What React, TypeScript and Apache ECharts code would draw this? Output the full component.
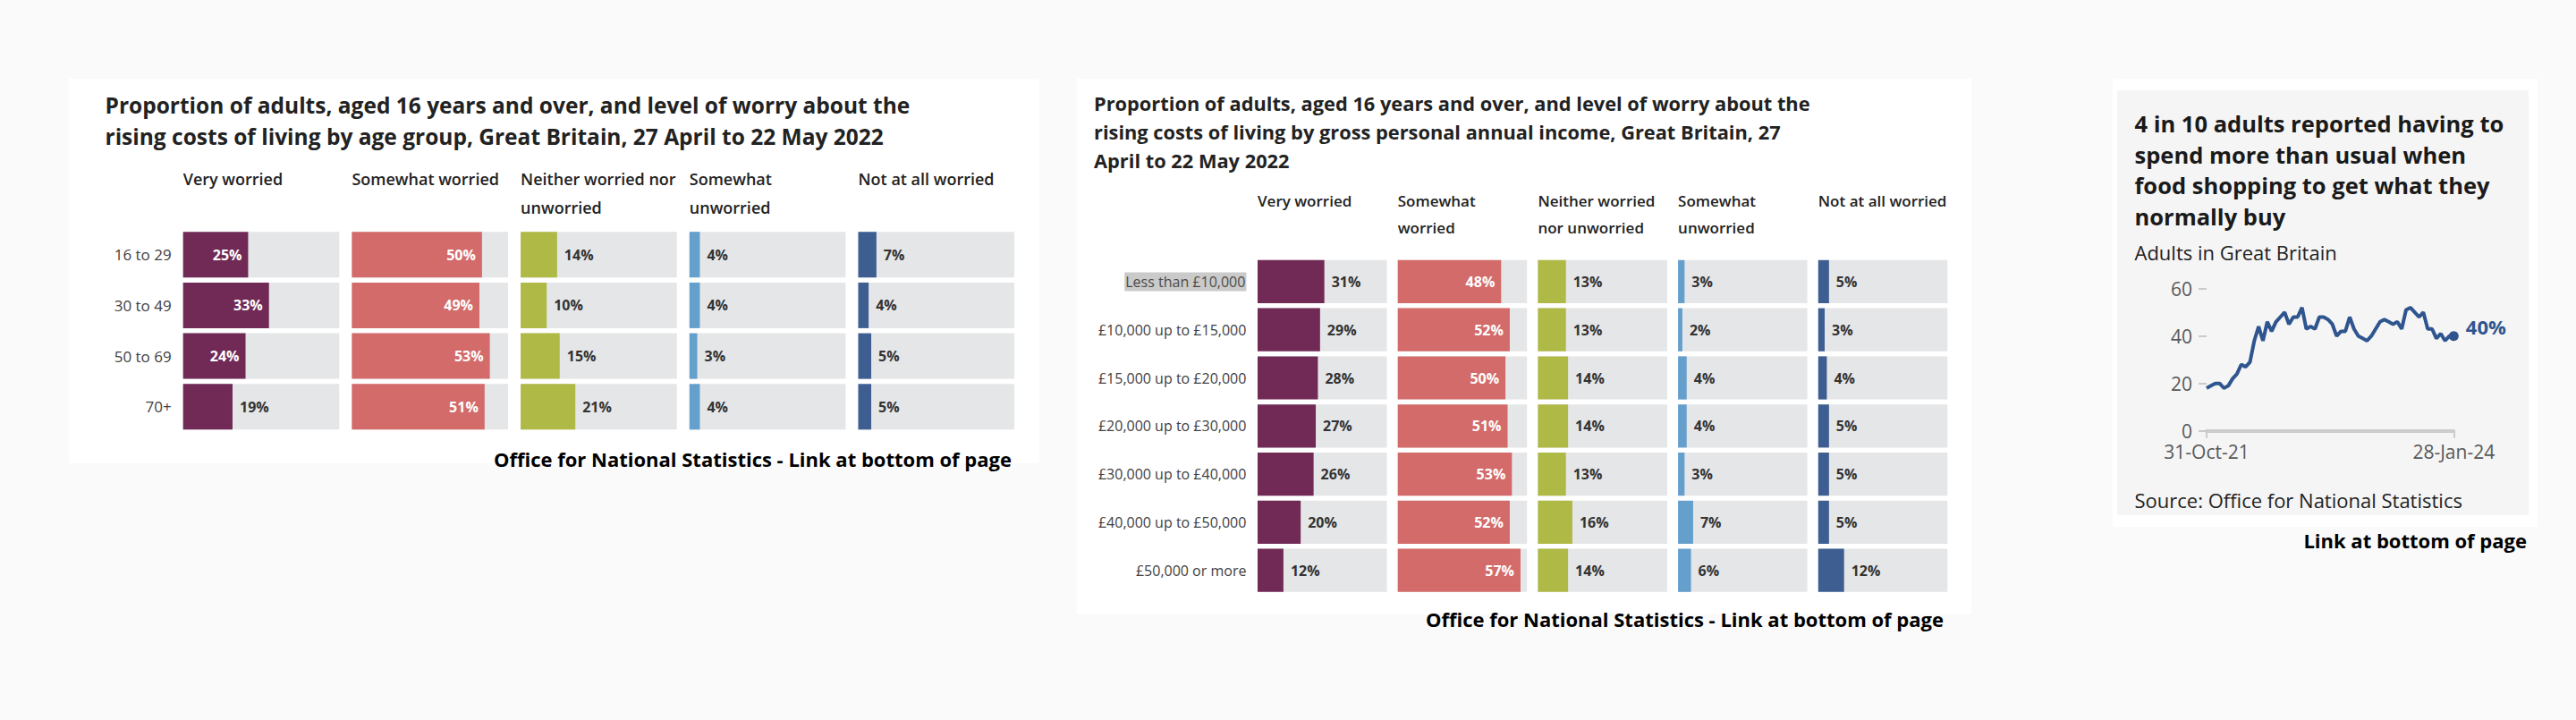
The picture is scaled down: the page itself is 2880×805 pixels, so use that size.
import React, { useEffect, useRef } from "react";
import * as echarts from "echarts";

const FONT = '"Open Sans", "Noto Sans", sans-serif';

// ---------- data ----------
const headersByAge = [
  "Very worried",
  "Somewhat worried",
  "Neither worried nor\nunworried",
  "Somewhat\nunworried",
  "Not at all worried",
];
const headersByIncome = [
  "Very worried",
  "Somewhat\nworried",
  "Neither worried\nnor unworried",
  "Somewhat\nunworried",
  "Not at all worried",
];

const ageGroups = ["16 to 29", "30 to 49", "50 to 69", "70+"];
const ageVeryWorried = [25, 33, 24, 19];
const ageSomewhatWorried = [50, 49, 53, 51];
const ageNeither = [14, 10, 15, 21];
const ageSomewhatUnworried = [4, 4, 3, 4];
const ageNotAtAll = [7, 4, 5, 5];

const incomeBands = [
  "Less than £10,000",
  "£10,000 up to £15,000",
  "£15,000 up to £20,000",
  "£20,000 up to £30,000",
  "£30,000 up to £40,000",
  "£40,000 up to £50,000",
  "£50,000 or more",
];
const highlightedBand = "Less than £10,000";
const incomeVeryWorried = [31, 29, 28, 27, 26, 20, 12];
const incomeSomewhatWorried = [48, 52, 50, 51, 53, 52, 57];
const incomeNeither = [13, 13, 14, 14, 13, 16, 14];
const incomeSomewhatUnworried = [3, 2, 4, 4, 3, 7, 6];
const incomeNotAtAll = [5, 3, 4, 5, 5, 5, 12];

const foodShoppingShare = [
  18, 19, 20, 20, 18, 19, 22, 24, 28, 27,
  29, 38, 44, 38, 46, 42, 46, 48, 50, 45,
  48, 48, 52, 43, 44, 43, 48, 48, 47, 45,
  40, 42, 42, 48, 43, 40, 39, 38, 40, 43,
  46, 47, 46, 45, 46, 43, 51, 52, 50, 48,
  50, 43, 43, 39, 41, 38, 40, 40,
];
const foodXTickLabels = ["31-Oct-21", "28-Jan-24"];
const foodYTicks = { min: 0, max: 60, interval: 20 };
const barScaleMax = 60;

// ---------- styles ----------
const worryColors = ["#712A56", "#D36B6A", "#AFB945", "#659FCC", "#3E5E92"];
const trackColor = "#E5E6E8";
const lineColor = "#2F558F";

type PanelCfg = {
  rows: string[];
  values: number[][];
  x0: number;
  pitchX: number;
  colW: number;
  top: number;
  rowPitch: number;
  barW: number;
  insideMin: number;
  rowFont: number;
  labelMargin: number;
};

function addBarPanel(opt: any, cfg: PanelCfg) {
  cfg.values.forEach((vals, k) => {
    const gi = opt.grid.length;
    opt.grid.push({
      left: cfg.x0 + k * cfg.pitchX,
      top: cfg.top,
      width: cfg.colW,
      height: cfg.rowPitch * cfg.rows.length,
    });
    opt.xAxis.push({ type: "value", gridIndex: gi, min: 0, max: barScaleMax, show: false });
    opt.yAxis.push({
      type: "category",
      gridIndex: gi,
      data: cfg.rows,
      inverse: true,
      axisLine: { show: false },
      axisTick: { show: false },
      splitLine: { show: false },
      axisLabel:
        k === 0
          ? {
              show: true,
              margin: cfg.labelMargin,
              fontSize: cfg.rowFont,
              fontFamily: FONT,
              color: "#414042",
              formatter: (v: string) => (v === highlightedBand ? `{hl|${v}}` : v),
              rich: {
                hl: {
                  backgroundColor: "#CACACA",
                  padding: [3, 1, 2, 1],
                  fontSize: cfg.rowFont,
                  fontFamily: FONT,
                  color: "#4a4a4a",
                },
              },
            }
          : { show: false },
    });
    opt.series.push({
      type: "bar",
      xAxisIndex: gi,
      yAxisIndex: gi,
      barWidth: cfg.barW,
      showBackground: true,
      backgroundStyle: { color: trackColor },
      itemStyle: { color: worryColors[k] },
      label: {
        show: true,
        formatter: "{c}%",
        fontSize: 16,
        fontWeight: "bold",
        fontFamily: FONT,
      },
      data: vals.map((v) => ({
        value: v,
        label:
          v >= cfg.insideMin
            ? { position: "insideRight", color: "#ffffff", distance: 7 }
            : { position: "right", color: "#333333", distance: 8 },
      })),
    });
  });
}

function textLines(
  out: any[],
  lines: string[],
  x: number,
  y0: number,
  lh: number,
  size: number,
  weight: any,
  fill: string,
  align: string = "left"
) {
  lines.forEach((t, i) => {
    out.push({
      type: "text",
      x,
      y: y0 + i * lh,
      z: 20,
      style: {
        text: t,
        fontSize: size,
        fontWeight: weight,
        fontFamily: FONT,
        fill,
        align,
        textAlign: align,
        verticalAlign: "middle",
        textVerticalAlign: "middle",
      },
    });
  });
}

function buildOption() {
  const opt: any = {
    animation: false,
    backgroundColor: "transparent",
    grid: [],
    xAxis: [],
    yAxis: [],
    series: [],
    graphic: [],
  };
  const g: any[] = [];

  // panel backgrounds
  const rect = (x: number, y: number, w: number, h: number, fill: string) =>
    g.push({ type: "rect", z: -10, shape: { x, y, width: w, height: h }, style: { fill } });
  rect(77, 88, 1085, 430, "#ffffff");
  rect(1204, 88, 1000, 599, "#ffffff");
  rect(2362, 88, 475, 501, "#ffffff");
  rect(2367, 101, 460, 475, "#F5F5F5");

  // ---- panel 1: by age
  textLines(
    g,
    [
      "Proportion of adults, aged 16 years and over, and level of worry about the",
      "rising costs of living by age group, Great Britain, 27 April to 22 May 2022",
    ],
    117.5, 117, 35, 24.5, "bold", "#222222"
  );
  headersByAge.forEach((h, k) =>
    textLines(g, h.split("\n"), 204.7 + k * 188.7, 200, 32, 18, 600, "#222222")
  );
  addBarPanel(opt, {
    rows: ageGroups,
    values: [ageVeryWorried, ageSomewhatWorried, ageNeither, ageSomewhatUnworried, ageNotAtAll],
    x0: 204.7,
    pitchX: 188.7,
    colW: 174.6,
    top: 256.35,
    rowPitch: 56.7,
    barW: 51,
    insideMin: 24,
    rowFont: 17,
    labelMargin: 13,
  });
  textLines(g, ["Office for National Statistics - Link at bottom of page"], 1131, 513, 30, 22, "bold", "#000000", "right");

  // ---- panel 2: by income
  textLines(
    g,
    [
      "Proportion of adults, aged 16 years and over, and level of worry about the",
      "rising costs of living by gross personal annual income, Great Britain, 27",
      "April to 22 May 2022",
    ],
    1223, 115, 32.4, 21.8, "bold", "#222222"
  );
  headersByIncome.forEach((h, k) =>
    textLines(g, h.split("\n"), 1406 + k * 156.7, 224.7, 29.3, 17, 600, "#222222")
  );
  addBarPanel(opt, {
    rows: incomeBands,
    values: [incomeVeryWorried, incomeSomewhatWorried, incomeNeither, incomeSomewhatUnworried, incomeNotAtAll],
    x0: 1406,
    pitchX: 156.7,
    colW: 144.5,
    top: 288,
    rowPitch: 53.8,
    barW: 48.2,
    insideMin: 40,
    rowFont: 16,
    labelMargin: 12.6,
  });
  textLines(g, ["Office for National Statistics - Link at bottom of page"], 2173, 692, 30, 22, "bold", "#000000", "right");

  // ---- panel 3: food shopping line
  textLines(
    g,
    [
      "4 in 10 adults reported having to",
      "spend more than usual when",
      "food shopping to get what they",
      "normally buy",
    ],
    2386.5, 138, 34.5, 25.5, "bold", "#1a1a1a"
  );
  textLines(g, ["Adults in Great Britain"], 2386.5, 281.5, 30, 22, "normal", "#222222");
  textLines(g, ["Source: Office for National Statistics"], 2386.5, 559, 30, 22, "normal", "#222222");
  textLines(g, ["Link at bottom of page"], 2825, 603.5, 30, 22, "bold", "#000000", "right");

  const gi = opt.grid.length;
  const last = foodShoppingShare.length - 1;
  opt.grid.push({ left: 2467, top: 322.7, width: 276.3, height: 159 });
  opt.xAxis.push({
    type: "category",
    gridIndex: gi,
    boundaryGap: false,
    data: foodShoppingShare.map((_, i) => String(i)),
    axisLine: { show: true, lineStyle: { color: "#CCCCCC", width: 4 } },
    axisTick: {
      show: true,
      length: 8,
      interval: (i: number) => i === 0 || i === last,
      lineStyle: { color: "#CCCCCC", width: 2 },
    },
    axisLabel: {
      show: true,
      margin: 13,
      interval: (i: number) => i === 0 || i === last,
      formatter: (_v: string, i: number) => (i === 0 ? foodXTickLabels[0] : foodXTickLabels[1]),
      fontSize: 21,
      fontFamily: FONT,
      color: "#595959",
    },
    splitLine: { show: false },
  });
  opt.yAxis.push({
    type: "value",
    gridIndex: gi,
    min: foodYTicks.min,
    max: foodYTicks.max,
    interval: foodYTicks.interval,
    axisLine: { show: false },
    axisTick: { show: true, length: 9, lineStyle: { color: "#BDBDBD", width: 1.5 } },
    axisLabel: { margin: 16, fontSize: 21, fontFamily: FONT, color: "#595959" },
    splitLine: { show: false },
  });
  opt.series.push({
    type: "line",
    xAxisIndex: gi,
    yAxisIndex: gi,
    symbol: "circle",
    showSymbol: true,
    showAllSymbol: true,
    symbolSize: (_v: any, p: any) => (p.dataIndex === last ? 11 : 0),
    lineStyle: { color: lineColor, width: 4 },
    itemStyle: { color: lineColor },
    label: { show: false },
    data: foodShoppingShare.map((v, i) =>
      i === last
        ? {
            value: v,
            label: {
              show: true,
              position: "right",
              distance: 8,
              offset: [0, -11],
              formatter: "{c}%",
              fontSize: 22,
              fontWeight: "bold",
              fontFamily: FONT,
              color: lineColor,
            },
          }
        : v
    ),
  });

  opt.graphic = g;
  return opt;
}

export default function App() {
  const ref = useRef<HTMLDivElement>(null);
  useEffect(() => {
    if (!ref.current) return;
    const chart = echarts.init(ref.current, null, { renderer: "svg" });
    chart.setOption(buildOption());
    return () => chart.dispose();
  }, []);
  return (
    <div
      ref={ref}
      style={{
        position: "fixed",
        left: 0,
        top: 0,
        width: 2880,
        height: 805,
        background: "#FAFAFA",
      }}
    />
  );
}
